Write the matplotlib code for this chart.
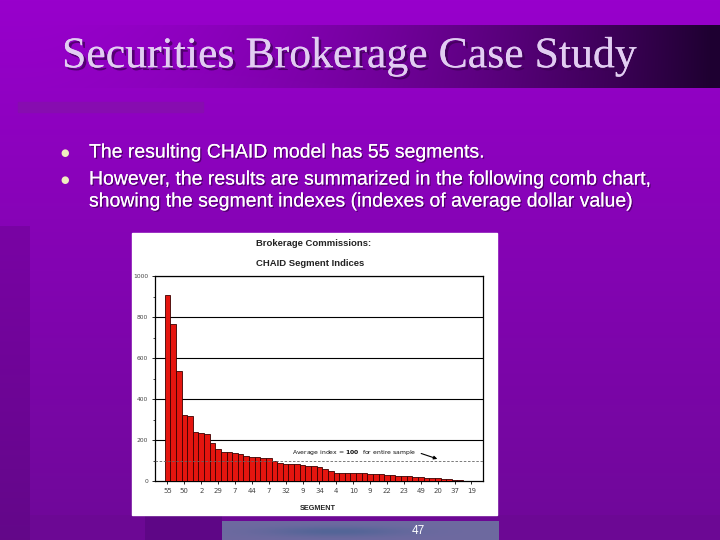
import numpy as np
import matplotlib
matplotlib.use("Agg")
import matplotlib.pyplot as plt
import matplotlib.patheffects as pe
from matplotlib.patches import Rectangle

# segment order on the x axis and index values
index_values = [911, 766, 537, 322, 319, 239, 234, 231, 185, 156,
                145, 145, 137, 132, 124, 120, 117, 112, 112, 101,
                88, 85, 85, 83, 80, 76, 76, 72, 59, 50,
                42, 42, 42, 42, 42, 39, 37, 36, 34, 33,
                33, 28, 26, 24, 23, 20, 18, 17, 16, 12,
                11, 7, 5, 3, 2]
tick_labels = ["55", "50", "2", "29", "7", "44", "7", "32", "9", "34",
               "4", "10", "9", "22", "23", "49", "20", "37", "19"]
y_ticks = [0, 200, 400, 600, 800, 1000]
average_index = 100

slide_title = "Securities Brokerage Case Study"
bullet_lines = ["The resulting CHAID model has 55 segments.",
                "However, the results are summarized in the following comb chart,",
                "showing the segment indexes (indexes of average dollar value)"]
bullet_marks = [True, True, False]

W, H = 720, 540
fig = plt.figure(figsize=(7.2, 5.4), dpi=100)

# slide background built as an image
yy, xx = np.mgrid[0:H, 0:W].astype(float)
t = (yy / H)[..., None]
top = np.array([152, 0, 204], float)
bot = np.array([110, 8, 152], float)
img = top * (1 - t) + bot * t
strip = (xx < 30) & (yy > 225)
img[strip] *= 0.9
band = (yy >= 25) & (yy <= 87)
a = np.clip((xx - 20) / 690, 0, 1) ** 1.9 * 0.93
a = np.where(band, a, 0)[..., None]
img = img * (1 - a) + np.array([22, 0, 38], float) * a
low = yy >= 515
img[low & (xx >= 30)] = np.array([108, 8, 148], float)
img[low & (xx >= 145) & (xx < 222)] = np.array([94, 6, 134], float)
blue = (yy >= 521) & (xx >= 222) & (xx <= 498)
g = np.exp(-((xx - 335) / 70) ** 2 - ((yy - 531) / 5) ** 2)[..., None]
blue_col = np.array([110, 106, 160], float) * (1 - 0.45 * g) + np.array([50, 95, 140], float) * 0.45 * g
img = np.where(blue[..., None], blue_col, img)

bg = fig.add_axes([0, 0, 1, 1])
bg.imshow(img.astype(np.uint8), extent=[0, W, H, 0], aspect="auto")
bg.set_xlim(0, W)
bg.set_ylim(H, 0)
bg.axis("off")

# decorative bar under the title
bg.add_patch(Rectangle((18, 102), 185, 10, color="#870cb0"))

bg.text(62, 56, slide_title, family="Liberation Serif", fontsize=31.5,
        color="#e2cdf2", va="center", ha="left",
        path_effects=[pe.withSimplePatchShadow(offset=(2, -2), shadow_rgbFace="#3a0050", alpha=0.7),
                      pe.Normal()])

for y, txt, mark in zip([153, 180, 202], bullet_lines, bullet_marks):
    if mark:
        bg.text(65, y, "\u25cf", fontsize=7, color="#f0eec0", ha="center", va="center")
    bg.text(89, y, txt, family="Liberation Sans", fontsize=14, color="white",
            ha="left", va="center",
            path_effects=[pe.withSimplePatchShadow(offset=(1, -1), shadow_rgbFace="#30003f", alpha=0.6),
                          pe.Normal()])

# white chart panel
bg.add_patch(Rectangle((132, 233), 365, 282, color="white"))
bg.text(256, 243, "Brokerage Commissions:", fontsize=6.8, weight="bold",
        family="Liberation Sans", ha="left", va="center", color="#222")
bg.text(256, 263, "CHAID Segment Indices", fontsize=6.8, weight="bold",
        family="Liberation Sans", ha="left", va="center", color="#222")
bg.text(318, 509, "SEGMENT", fontsize=5.2, weight="bold",
        family="Liberation Sans", ha="center", va="center", color="#222")
bg.text(418, 531, "47", fontsize=8.5, color="white", ha="center", va="center",
        family="Liberation Sans")

# comb chart
ax = fig.add_axes([154.5 / W, 1 - 481.3 / H, (483.3 - 154.5) / W, (481.3 - 276.3) / H])
x = np.arange(len(index_values))
ax.bar(x, index_values, width=1.0, color="#e5150f", edgecolor="#3c0000", linewidth=0.6, zorder=3)
ax.set_xlim(-2.3, 56.1)
ax.set_ylim(0, 1000)
for v in y_ticks[1:]:
    ax.axhline(v, color="black", linewidth=0.8, zorder=1)
ax.axhline(average_index, color="#666", linewidth=0.6, linestyle=(0, (3, 2)), zorder=4)
ax.set_yticks(y_ticks)
ax.set_yticks(np.arange(100, 1000, 200), minor=True)
ax.set_yticklabels([str(v) for v in y_ticks], fontsize=4.3, color="#444")
ax.set_xticks(x[::3])
ax.set_xticklabels(tick_labels, fontsize=5, color="#444")
ax.tick_params(axis="both", which="major", length=2.5, width=0.6, pad=2)
ax.tick_params(axis="y", which="minor", length=1.5, width=0.5)
for s in ax.spines.values():
    s.set_linewidth(0.9)

ax.annotate("", xy=(48.4, 105), xytext=(44.6, 140),
            arrowprops=dict(arrowstyle="-|>", color="black", lw=0.8, mutation_scale=5), zorder=5)
ax.text(44.3, 142, "Average index = $\\bf{100}$  for entire sample", fontsize=4.4,
        ha="right", va="center", color="#111", zorder=5)

fig.savefig("out.png", dpi=100)
